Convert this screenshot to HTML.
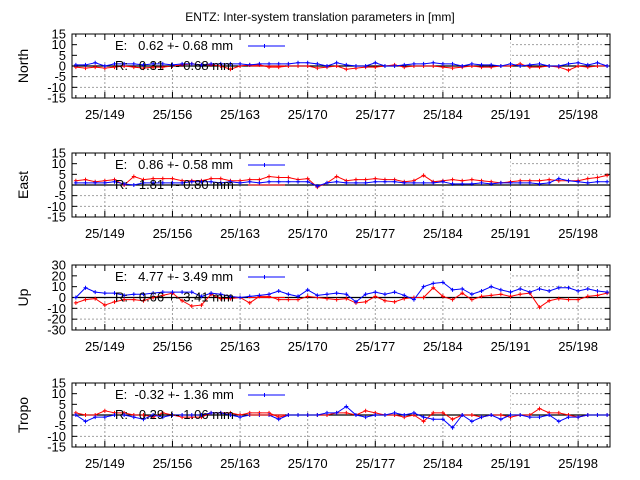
<!DOCTYPE html>
<html><head><meta charset="utf-8"><style>
body{margin:0;background:#fff}
svg{display:block;font-family:"Liberation Sans",sans-serif}
</style></head><body>
<svg id="c" width="640" height="480">
<text x="320" y="21" text-anchor="middle" font-size="12">ENTZ: Inter-system translation parameters in [mm]</text>
</svg>
<script>
const days=[146,147,148,149,150,151,152,153,154,155,156,157,158,159,160,161,162,163,164,165,166,167,168,169,170,171,172,173,174,175,176,177,178,179,180,181,182,183,184,185,186,187,188,189,190,191,192,193,194,195,196,197,198,199,200,201];
const xTicks=[149,156,163,170,177,184,191,198];
const xTickLabels=["25/149","25/156","25/163","25/170","25/177","25/184","25/191","25/198"];
const panelNames=["North","East","Up","Tropo"];
const legendE=["E:   0.62 +- 0.68 mm","E:   0.86 +- 0.58 mm","E:   4.77 +- 3.49 mm","E:  -0.32 +- 1.36 mm"];
const legendR=["R:   0.31 +- 0.68 mm","R:   1.81 +- 0.80 mm","R:   0.66 +- 3.41 mm","R:   0.29 +- 1.06 mm"];
const northE=[0.5,0.5,1.5,0,1,1,1,0.5,1,1,0.5,1,1,0.5,1,1,1,1,0.5,1,1,1,1,1.5,1.5,1,0,1.5,0.5,0,0,1.5,0,0,0.5,1,1,1.5,1,1,0,1,0.5,0.5,0,1,0,0.5,1,0,0,1,1.5,0.5,1.5,0];
const northR=[-0.5,-1,-0.5,-1,-0.5,0,-0.5,-1,-0.5,-0.5,0,0.5,1,0.5,0.5,0,-1.5,0,0.5,0.5,-0.5,-0.5,0,0,0,-1,-0.5,0,-1.5,-1,-0.5,-0.5,0,0.5,-0.5,0,0,0,-0.5,-1,-0.5,0,-0.5,-0.5,0,0,1,-0.5,-0.5,0,-0.5,-2,0,-0.5,0,0];
const eastE=[1,1,1,1,1.5,0.5,0,1,1,1,1,1,1.5,1.5,1.5,1,1.5,1,1.5,1,1.5,1.5,1.5,1.5,1.5,-0.5,1,1.5,1,1,1,1.5,1.5,1.5,1,1,1,1,1.5,0.5,0.5,0.5,1,0.5,1,1,1,1,0.5,1,3,2,1.5,1,1.5,1.5];
const eastR=[2,2.5,1.5,2,2.5,0,4,2.5,3,3,3,2,2,2,3,3,2,2,2.5,2.5,4,3.5,3.5,2.5,3,-1,1,4,2,2.5,2.5,3,2.5,2.5,1.5,2,4.5,1.5,2,2.5,2,2.5,2,1.5,1,1.5,2,2,2,2.5,2,2,2,3,3.5,4.5];
const upE=[0,9,5,4,4,2,3,3,4,5,5,5,5,1,4,3,1,0,1,2,3,6,3,1,7,2,3,4,3,-4,3,5,3,5,2,-2,10,13,14,7,8,3,6,10,7,5,8,5,8,6,9,9,6,8,6,5];
const upR=[-5,-2,-1,-7,-4,-2,-2,-3,0,2,4,-3,-8,-7,3,-1,-1,0,-5,1,1,-2,-2,-2,1,0,-1,-2,-1,-5,-4,1,-3,-4,-1,0,0,9,1,-2,4,-2,1,2,3,1,3,4,-9,-3,-1,-2,-2,1,2,4];
const tropoE=[0,-3,-1,-1,0,0,-1,-2,0,-1,0,0,0,0,1,1,0,-1,0,0,0,-2,0,0,0,0,1,1,4,0,-1,0,0,1,0,1,-1,-2,-2,-6,0,-3,-1,0,-2,0,0,-1,-1,0,-3,-1,-1,0,0,0];
const tropoR=[1,0,0,2,1,1,0,0,-1,1,0,-1,-1,-1,1,1,1,0,1,1,1,-1,0,0,0,0,0,1,1,0,2,1,0,0,-1,0,-3,1,1,-2,0,0,-1,0,0,-1,0,0,3,1,1,0,-1,0,0,0];
const series=[[northE,northR],[eastE,eastR],[upE,upR],[tropoE,tropoR]];
const ranges=[15,15,30,15];
const tickSteps=[5,5,10,5];
const tops=[34,153,265,383], bots=[98,217,330,447];
const X0=72,X1=610,D0=145.6,D1=201.3;
const ns="http://www.w3.org/2000/svg";
const svg=document.getElementById('c');
function xs(d){return X0+(d-D0)/(D1-D0)*(X1-X0);}
function mk(t,a,p){const e=document.createElementNS(ns,t);for(const k in a)e.setAttribute(k,a[k]);(p||svg).appendChild(e);return e;}
panelNames.forEach((nm,pi)=>{
  const r=ranges[pi],top=tops[pi],bot=bots[pi];
  const ys=v=>top+(r-v)/(2*r)*(bot-top);
  const g=mk('g',{});
  
  
  // grid
  for(let v=-r;v<=r;v+=tickSteps[pi]){
    if(v===0||v===r||v===-r)continue;
    const l=mk('line',{x1:X0,x2:X1,y1:ys(v),y2:ys(v),stroke:'#a0a0a0','stroke-dasharray':'2,2','stroke-width':1},g);
    
    
  }
  xTicks.forEach(d=>{
    const l=mk('line',{x1:xs(d),x2:xs(d),y1:top,y2:bot,stroke:'#a0a0a0','stroke-dasharray':'2,2','stroke-width':1},g);
    
    
  });
  // legend box
  mk('rect',{x:X0+1,y:top+1,width:xs(191)-X0-1,height:ys(r*0.2)-top,fill:'#fff'},g);
  // zero line
  const z=mk('line',{x1:X0,x2:X1,y1:ys(0),y2:ys(0),stroke:'#000','stroke-width':1.3},g);
  
  
  // ticks
  for(let v=-r;v<=r;v+=tickSteps[pi]){
    mk('line',{x1:X0,x2:X0+5,y1:ys(v),y2:ys(v),stroke:'#000'},g);
    mk('line',{x1:X1-5,x2:X1,y1:ys(v),y2:ys(v),stroke:'#000'},g);
    const t=mk('text',{x:66,y:ys(v)+4.5,'text-anchor':'end','font-size':13},g);
    t.textContent=v;
    
    
  }
  for(let d=146;d<=201;d++){
    const L=xTicks.includes(d)?6:3;
    mk('line',{x1:xs(d),x2:xs(d),y1:bot,y2:bot-L,stroke:'#000'},g);
    mk('line',{x1:xs(d),x2:xs(d),y1:top,y2:top+L,stroke:'#000'},g);
  }
  xTicks.forEach((d,i)=>{
    const t=mk('text',{x:xs(d),y:bot+21,'text-anchor':'middle','font-size':13},g);
    t.textContent=xTickLabels[i];
    
    
  });
  const yl=mk('text',{x:0,y:0,'text-anchor':'middle','font-size':14,transform:`translate(28,${(top+bot)/2}) rotate(-90)`},g);
  yl.textContent=nm;
  
  
  // legend
  const lx=115;
  const le=mk('text',{x:lx,y:top+16,'font-size':13},g);
  le.textContent=legendE[pi];le.setAttribute('xml:space','preserve');le.style.whiteSpace='pre';
  
  
  mk('line',{x1:248,x2:285,y1:top+12,y2:top+12,stroke:'#0000ff'},g);
  mk('path',{d:`M264.5,${top+10}v4M262.5,${top+12}h4`,stroke:'#0000ff'},g);
  // series
  const cols=['#0000ff','#ff0000'];
  [1,0].forEach(si=>{
    const vals=series[pi][si];
    const pts=vals.map((v,i)=>[xs(days[i]),ys(v)]);
    const pl=mk('polyline',{points:pts.map(p=>p.join(',')).join(' '),fill:'none',stroke:cols[si],'stroke-width':1},g);
    
    
    let d='';pts.forEach(p=>{d+=`M${p[0]-2},${p[1]}h4M${p[0]},${p[1]-2}v4`;});
    mk('path',{d:d,stroke:cols[si],'stroke-width':1},g);
  });
  const lr=mk('text',{x:lx,y:ys(0)+4,'font-size':13},g);
  lr.textContent=legendR[pi];lr.style.whiteSpace='pre';
  
  
  mk('line',{x1:248,x2:285,y1:ys(0),y2:ys(0),stroke:'#ff0000'},g);
  mk('rect',{x:X0,y:top,width:X1-X0,height:bot-top,fill:'none',stroke:'#000','stroke-width':1},g);
});
</script>
</body></html>
